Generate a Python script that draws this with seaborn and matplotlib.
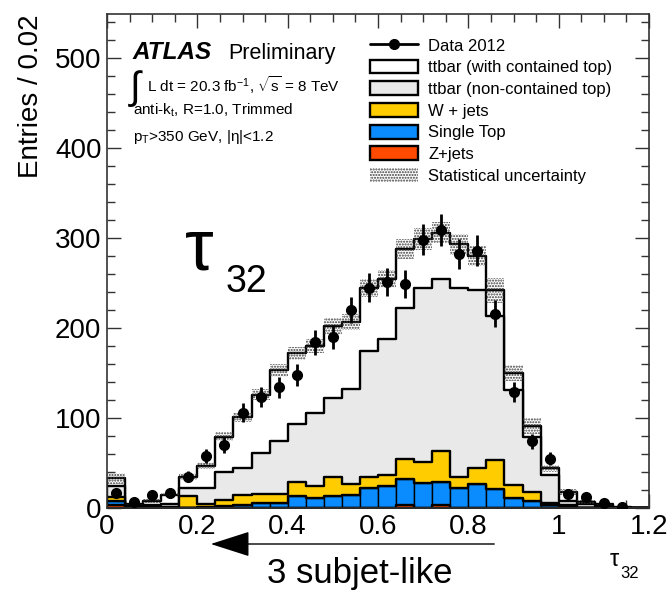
import numpy as np
import pandas as pd
import matplotlib
matplotlib.use("Agg")
import matplotlib.pyplot as plt
import seaborn as sns
from matplotlib.patches import Patch
from matplotlib.lines import Line2D
from matplotlib.ticker import MultipleLocator

# ---------------- data (30 bins of width 0.04 in tau32) ----------------
bin_width = 0.04
n_bins = 30
zjets = [3, 0, 0, 0, 0, 0, 0, 0, 0, 0,
         0.5, 0.5, 0.5, 0.5, 0.5, 0.5, 3, 0.5, 3, 0.5,
         0.5, 0.5, 0.5, 0, 0, 0, 0, 0, 0, 0]
single_top = [5, 0, 0, 0, 0, 1, 2, 3, 6, 6,
              12.5, 10.5, 12.5, 13.5, 21.5, 24.5, 29, 27.5, 26, 21.5,
              26.5, 20.5, 10.5, 8, 3, 1, 0, 0, 0, 0]
wjets = [4, 0.5, 1, 1, 13, 4, 7, 11, 10, 10,
         16, 14, 22, 13, 12, 12, 22, 23, 34, 12,
         17, 32, 15, 10, 3, 2, 0.5, 0, 0, 0]
ttbar_noncontained = [12, 1.5, 2, 4, 9, 17, 31, 30, 45, 58,
                      64, 81, 87, 105, 140, 151, 168, 193, 191, 210,
                      198, 160, 105, 61, 31, 5, 3.5, 2, 0.5, 0]
ttbar_contained = [9, 2, 5, 10, 13, 25, 39, 57, 65, 79,
                   79, 74, 80, 75, 71, 66, 66, 55, 52, 49,
                   38, 29, 19, 12, 7, 10, 3, 2, 0.5, 0]
stat_unc = [6, 1, 2, 2, 4, 4, 5, 5, 6, 7,
            7, 8, 9, 9, 10, 10, 11, 12, 12, 12,
            11, 14, 9, 9, 4, 3, 2, 1, 0.5, 0]
data_2012 = [17, 7, 14, 17, 35, 58, 70, 106, 123, 134,
             148, 184, 190, 220, 245, 251, 249, 298, 309, 282,
             286, 216, 129, 74, 55, 16, 12, 6, 1, np.nan]
data_err = [4.1, 2.6, 3.7, 4.1, 5.9, 7.6, 8.4, 10.3, 11.1, 11.6,
            12.2, 13.6, 13.8, 14.8, 15.7, 15.8, 15.8, 17.3, 17.6, 16.8,
            16.9, 14.7, 11.4, 8.6, 7.4, 4.0, 3.5, 2.4, 1.0, 0]

legend_labels = ["Data 2012", "ttbar (with contained top)", "ttbar (non-contained top)",
                 "W + jets", "Single Top", "Z+jets", "Statistical uncertainty"]
colors = {"ttc": "#ffffff", "ttn": "#e9e9e9", "w": "#ffcc00", "st": "#0a8cff", "z": "#ff4a00"}

# ---------------- derived ----------------
edges = np.linspace(0, bin_width * n_bins, n_bins + 1)
centers = edges[:-1] + bin_width / 2
c_z = np.array(zjets, float)
c_st = c_z + np.array(single_top, float)
c_w = c_st + np.array(wjets, float)
c_ttn = c_w + np.array(ttbar_noncontained, float)
c_tot = c_ttn + np.array(ttbar_contained, float)
unc = np.array(stat_unc, float)
dat = np.array(data_2012, float)
derr = np.array(data_err, float)

df = pd.DataFrame({"tau32": centers, "tot": c_tot, "ttn": c_ttn, "w": c_w,
                   "st": c_st, "z": c_z})
bin_list = [float(e) for e in edges]

# ---------------- style ----------------
sns.set_theme(style="ticks")
plt.rcParams["font.family"] = ["Liberation Sans", "DejaVu Sans"]
plt.rcParams["mathtext.fontset"] = "custom"
plt.rcParams["mathtext.rm"] = "Liberation Sans"
plt.rcParams["mathtext.it"] = "Liberation Sans:italic"
plt.rcParams["mathtext.bf"] = "Liberation Sans:bold"
plt.rcParams["hatch.linewidth"] = 1.0
for k in ["text.color", "axes.labelcolor", "xtick.color", "ytick.color", "axes.edgecolor"]:
    plt.rcParams[k] = "black"

fig = plt.figure(figsize=(6.67, 5.94), dpi=100)
ax = fig.add_axes([107 / 667, 1 - 508 / 594, 542 / 667, 494 / 594])

lw = 1.7
for col_name, col in [("tot", colors["ttc"]), ("ttn", colors["ttn"]), ("w", colors["w"])]:
    sns.histplot(data=df, x="tau32", weights=col_name, bins=bin_list, element="step",
                 fill=True, color=col, edgecolor="black", linewidth=lw, alpha=1, ax=ax)
sns.histplot(data=df, x="tau32", weights="st", bins=bin_list, element="bars", fill=True,
             color=colors["st"], edgecolor="black", linewidth=1.0, alpha=1, ax=ax)
sns.histplot(data=df, x="tau32", weights="st", bins=bin_list, element="step", fill=False,
             color="black", linewidth=lw, ax=ax)
sns.histplot(data=df, x="tau32", weights="z", bins=bin_list, element="step", fill=True,
             color=colors["z"], edgecolor="black", linewidth=lw, alpha=1, ax=ax)

# statistical uncertainty band
lo = np.append(c_tot - unc, (c_tot - unc)[-1])
hi = np.append(c_tot + unc, (c_tot + unc)[-1])
ax.fill_between(edges, lo, hi, step="post", facecolor="none", edgecolor="#3a3a3a",
                hatch="......", linewidth=0, zorder=5)

# data
mask = ~np.isnan(dat)
ax.errorbar(centers[mask], dat[mask], yerr=derr[mask], fmt="o", color="black",
            ms=7, elinewidth=2, capsize=0, zorder=10)

# axes
ax.set_xlim(0, 1.2)
ax.set_ylim(0, 549)
ax.xaxis.set_major_locator(MultipleLocator(0.2))
ax.xaxis.set_minor_locator(MultipleLocator(0.05))
ax.yaxis.set_major_locator(MultipleLocator(100))
ax.yaxis.set_minor_locator(MultipleLocator(20))
ax.set_xticks([0, 0.2, 0.4, 0.6, 0.8, 1.0, 1.2])
ax.set_xticklabels(["0", "0.2", "0.4", "0.6", "0.8", "1", "1.2"])
ax.tick_params(which="both", direction="in", top=True, right=True, labelsize=20,
               width=1.0, color="#333333", labelcolor="black")
ax.tick_params(which="major", length=10, pad=4)
ax.tick_params(which="minor", length=6)
for s in ax.spines.values():
    s.set_linewidth(1.2)
    s.set_color("#333333")
ax.set_xlabel("")
ax.set_ylabel("Entries / 0.02", fontsize=20, ha="right", y=1.0, labelpad=8, color="black")

# legend
handles = [
    Line2D([], [], color="black", marker="o", ms=7, lw=2),
    Patch(facecolor=colors["ttc"], edgecolor="black", linewidth=1.7),
    Patch(facecolor=colors["ttn"], edgecolor="black", linewidth=1.7),
    Patch(facecolor=colors["w"], edgecolor="black", linewidth=1.7),
    Patch(facecolor=colors["st"], edgecolor="black", linewidth=1.7),
    Patch(facecolor=colors["z"], edgecolor="black", linewidth=1.7),
    Patch(facecolor="none", edgecolor="#3a3a3a", hatch="......", linewidth=0),
]
leg = ax.legend(handles, legend_labels, loc="upper left",
                bbox_to_anchor=(370 / 667, 1 - 38 / 594), bbox_transform=fig.transFigure,
                frameon=False, fontsize=12, handlelength=2.9, handleheight=0.9,
                labelspacing=0.36, handletextpad=0.6, borderpad=0, borderaxespad=0)


def fx(px):
    return px / 667


def fy(py):
    return 1 - py / 594


# ATLAS labels
fig.text(fx(132), fy(59), "ATLAS", fontsize=17.5, fontweight="bold", fontstyle="italic",
         va="baseline")
fig.text(fx(228), fy(59), "Preliminary", fontsize=15.5, va="baseline")
fig.text(fx(130), fy(99), "\u222b", fontsize=28, va="baseline")
fig.text(fx(147), fy(92), r"L dt = 20.3 fb$^{\mathregular{-1}}$, $\mathregular{\sqrt{s}}$ = 8 TeV",
         fontsize=11, va="baseline")
fig.text(fx(133), fy(115), r"anti-k$_{\mathregular{t}}$, R=1.0, Trimmed", fontsize=11,
         va="baseline")
fig.text(fx(133), fy(141), "p$_{\\mathregular{T}}$>350 GeV, |\u03b7|<1.2", fontsize=11,
         va="baseline")

# big tau32 label
fig.text(fx(185), fy(270), "\u03c4", fontsize=52, va="baseline")
fig.text(fx(226), fy(292), "32", fontsize=27, va="baseline")

# x-axis label
fig.text(fx(610), fy(566), "\u03c4", fontsize=17, va="baseline")
fig.text(fx(620), fy(578), "32", fontsize=12, va="baseline")

# arrow + text
ax.annotate("", xy=(208, 594 - 544), xycoords="figure pixels",
            xytext=(497, 594 - 544), textcoords="figure pixels",
            arrowprops=dict(arrowstyle="-|>,head_length=2.5,head_width=0.8",
                            mutation_scale=10, color="black", lw=1.0))
fig.text(fx(360), fy(574), "3 subjet-like", fontsize=25, ha="center", va="center")

fig.savefig("out.png", dpi=100)
